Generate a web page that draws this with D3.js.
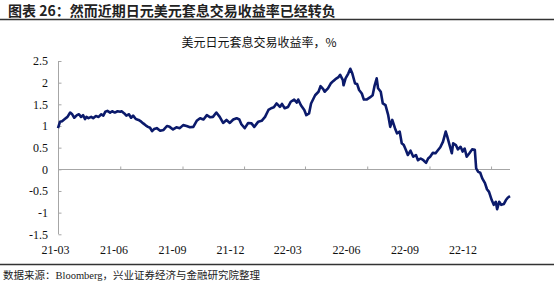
<!DOCTYPE html>
<html>
<head>
<meta charset="utf-8">
<script src="https://cdn.jsdelivr.net/npm/d3@7"></script>
<style>
  body { margin: 0; background: #fff; }
  svg { display: block; }
</style>
</head>
<body>
<div id="chart"></div>
<script>
// 美元日元套息交易收益率 (%)
var dates = ["2021-03-01","2021-03-04","2021-03-07","2021-03-11","2021-03-15","2021-03-19","2021-03-22","2021-03-25","2021-03-29",
  "2021-04-01","2021-04-04","2021-04-07","2021-04-10","2021-04-12","2021-04-15","2021-04-19","2021-04-22","2021-04-26","2021-04-30",
  "2021-05-04","2021-05-07","2021-05-10","2021-05-13","2021-05-17","2021-05-20","2021-05-24","2021-05-28",
  "2021-06-01","2021-06-03","2021-06-07","2021-06-10","2021-06-14","2021-06-17","2021-06-20","2021-06-24","2021-06-28",
  "2021-07-02","2021-07-05","2021-07-09","2021-07-12","2021-07-15","2021-07-18","2021-07-21","2021-07-25","2021-07-30",
  "2021-08-04","2021-08-09","2021-08-13","2021-08-18","2021-08-23","2021-08-28",
  "2021-09-02","2021-09-07","2021-09-12","2021-09-17","2021-09-22","2021-09-27",
  "2021-10-02","2021-10-07","2021-10-12","2021-10-16","2021-10-21","2021-10-26","2021-10-31",
  "2021-11-05","2021-11-10","2021-11-15","2021-11-20","2021-11-24","2021-11-27",
  "2021-12-02","2021-12-07","2021-12-12","2021-12-16","2021-12-22","2021-12-27",
  "2022-01-01","2022-01-06","2022-01-10","2022-01-14","2022-01-18","2022-01-23","2022-01-26","2022-01-30",
  "2022-02-04","2022-02-08","2022-02-13","2022-02-17","2022-02-19","2022-02-23","2022-02-28",
  "2022-03-03","2022-03-07","2022-03-10","2022-03-16","2022-03-21","2022-03-24","2022-03-28","2022-03-30",
  "2022-04-04","2022-04-08","2022-04-12","2022-04-15","2022-04-19","2022-04-22","2022-04-26","2022-04-27","2022-04-30",
  "2022-05-04","2022-05-07","2022-05-10","2022-05-14","2022-05-17","2022-05-20","2022-05-24","2022-05-27","2022-05-31",
  "2022-06-05","2022-06-09","2022-06-12","2022-06-15","2022-06-17","2022-06-21","2022-06-24","2022-06-28",
  "2022-07-02","2022-07-05","2022-07-08","2022-07-12","2022-07-15","2022-07-19","2022-07-22","2022-07-25","2022-07-28","2022-07-31",
  "2022-08-04","2022-08-08","2022-08-12","2022-08-15","2022-08-19","2022-08-23","2022-08-27","2022-08-30",
  "2022-09-02","2022-09-06","2022-09-10","2022-09-14","2022-09-17","2022-09-21","2022-09-25","2022-09-27","2022-09-30",
  "2022-10-04","2022-10-06","2022-10-10","2022-10-13","2022-10-17","2022-10-20","2022-10-23","2022-10-26","2022-10-30",
  "2022-11-03","2022-11-07","2022-11-09","2022-11-12","2022-11-15","2022-11-18","2022-11-22","2022-11-25","2022-11-28",
  "2022-12-02","2022-12-05","2022-12-08","2022-12-10","2022-12-13","2022-12-16","2022-12-20","2022-12-23","2022-12-26","2022-12-29"];

var carryYield = [0.95,1.10,1.11,1.16,1.21,1.31,1.27,1.19,1.25,
  1.27,1.21,1.25,1.16,1.21,1.18,1.21,1.18,1.23,1.21,
  1.27,1.24,1.33,1.35,1.31,1.34,1.31,1.34,
  1.33,1.34,1.29,1.24,1.27,1.19,1.24,1.16,1.14,
  1.10,1.06,1.01,0.98,0.96,0.88,0.93,0.95,0.89,
  0.91,1.00,0.98,0.92,0.97,0.95,
  1.02,1.00,0.97,0.98,1.12,1.18,
  1.15,1.25,1.20,1.21,1.31,1.21,1.07,
  1.14,1.07,1.15,1.18,1.15,1.04,
  0.95,1.07,1.06,0.98,1.10,1.12,
  1.21,1.37,1.41,1.43,1.52,1.44,1.51,1.41,
  1.44,1.56,1.61,1.54,1.61,1.48,1.37,
  1.25,1.29,1.52,1.71,1.79,1.92,1.85,1.79,
  1.87,1.98,2.04,2.08,2.12,2.18,2.06,1.94,2.10,
  2.21,2.32,2.21,1.98,1.97,1.83,1.75,1.61,1.61,
  1.66,1.71,1.94,2.10,1.87,1.79,1.52,1.48,
  1.25,0.98,1.14,0.95,0.83,0.87,0.60,0.56,0.45,0.33,
  0.43,0.29,0.33,0.21,0.25,0.21,0.15,0.25,
  0.29,0.38,0.37,0.45,0.51,0.64,0.87,0.77,0.60,
  0.37,0.60,0.56,0.46,0.52,0.41,0.48,0.29,0.37,
  0.46,0.45,0.02,-0.06,-0.08,-0.21,-0.32,-0.46,-0.52,
  -0.71,-0.82,-0.75,-0.92,-0.75,-0.82,-0.80,-0.71,-0.65,-0.62];

var yTicks = [-1.5, -1, -0.5, 0, 0.5, 1, 1.5, 2, 2.5];
var xTicks = ["2021-03-01","2021-06-01","2021-09-01","2021-12-01","2022-03-01","2022-06-01","2022-09-01","2022-12-01"];

var svgWidth = 554, svgHeight = 285;
var parseDate = d3.timeParse("%Y-%m-%d");

var liveData = dates.map(function(d, i) {
  return { date: parseDate(d), value: carryYield[i] };
});
var tickDates = xTicks.map(parseDate);

var svg = d3.select("#chart")
  .append("svg")
  .attr("width", svgWidth)
  .attr("height", svgHeight);

// title + rule
svg.append("text")
  .attr("x", 8)
  .attr("y", 16)
  .attr("font-family", "'Noto Sans CJK SC', sans-serif")
  .attr("font-weight", "bold")
  .attr("font-size", "14px")
  .attr("fill", "#222")
  .text("图表 26：然而近期日元美元套息交易收益率已经转负");

svg.append("line")
  .attr("x1", 0).attr("x2", svgWidth)
  .attr("y1", 19.5).attr("y2", 19.5)
  .attr("stroke", "#333")
  .attr("stroke-width", 1.5);

svg.append("text")
  .attr("x", 259)
  .attr("y", 47)
  .attr("text-anchor", "middle")
  .attr("font-family", "'Noto Sans CJK SC', sans-serif")
  .attr("font-size", "12px")
  .attr("fill", "#111")
  .text("美元日元套息交易收益率，%");

// scales
var xScale = d3.scaleTime()
  .domain([parseDate("2021-03-01"), parseDate("2022-12-29")])
  .range([58, 510]);

// tick labels sit a little left of the ticks in the source picture
var labelScale = d3.scaleTime()
  .domain([parseDate("2021-03-01"), parseDate("2022-12-01")])
  .range([55.4, 463]);

var yScale = d3.scaleLinear()
  .domain([-1.5, 2.5])
  .range([234.3, 61]);

var axisColor = "#a6a6a6";

// y axis
var leftAxis = d3.axisRight(yScale)
  .tickValues(yTicks)
  .tickSize(3)
  .tickFormat("");

var yAxis = svg.append("g")
  .attr("transform", "translate(58.5,0)")
  .call(leftAxis);
yAxis.select(".domain").attr("stroke", axisColor).attr("d", "M0," + yScale(2.5) + "V" + yScale(-1.5));
yAxis.selectAll(".tick line").attr("stroke", axisColor);

svg.append("g").selectAll("text")
  .data(yTicks)
  .enter()
  .append("text")
  .attr("x", 48)
  .attr("y", function(d) { return yScale(d); })
  .attr("dy", "0.35em")
  .attr("text-anchor", "end")
  .attr("font-family", "'Liberation Serif', serif")
  .attr("font-size", "12px")
  .attr("fill", "#111")
  .text(function(d) { return d; });

// x axis at zero
var bottomAxis = d3.axisTop(xScale)
  .tickValues(tickDates)
  .tickSize(3)
  .tickFormat("");

var xAxis = svg.append("g")
  .attr("transform", "translate(0," + (Math.round(yScale(0)) + 0.5) + ")")
  .call(bottomAxis);
xAxis.select(".domain").attr("stroke", axisColor).attr("d", "M58,0H510");
xAxis.selectAll(".tick line").attr("stroke", axisColor);

svg.append("g").selectAll("text")
  .data(tickDates)
  .enter()
  .append("text")
  .attr("x", function(d) { return labelScale(d); })
  .attr("y", 254)
  .attr("text-anchor", "middle")
  .attr("font-family", "'Liberation Serif', serif")
  .attr("font-size", "12px")
  .attr("fill", "#111")
  .text(d3.timeFormat("%y-%m"));

// series
var line = d3.line()
  .x(function(d) { return xScale(d.date); })
  .y(function(d) { return yScale(d.value); });

svg.append("path")
  .datum(liveData)
  .attr("d", line)
  .attr("fill", "none")
  .attr("stroke", "#0b1a6b")
  .attr("stroke-width", 2.6)
  .attr("stroke-linejoin", "round");

// source
svg.append("line")
  .attr("x1", 0).attr("x2", svgWidth)
  .attr("y1", 264.5).attr("y2", 264.5)
  .attr("stroke", "#333")
  .attr("stroke-width", 1.5);

svg.append("text")
  .attr("x", 3)
  .attr("y", 279)
  .attr("font-family", "'Liberation Serif', 'Noto Sans CJK SC', serif")
  .attr("font-size", "10.5px")
  .attr("fill", "#222")
  .text("数据来源：Bloomberg，兴业证券经济与金融研究院整理");
</script>
</body>
</html>
